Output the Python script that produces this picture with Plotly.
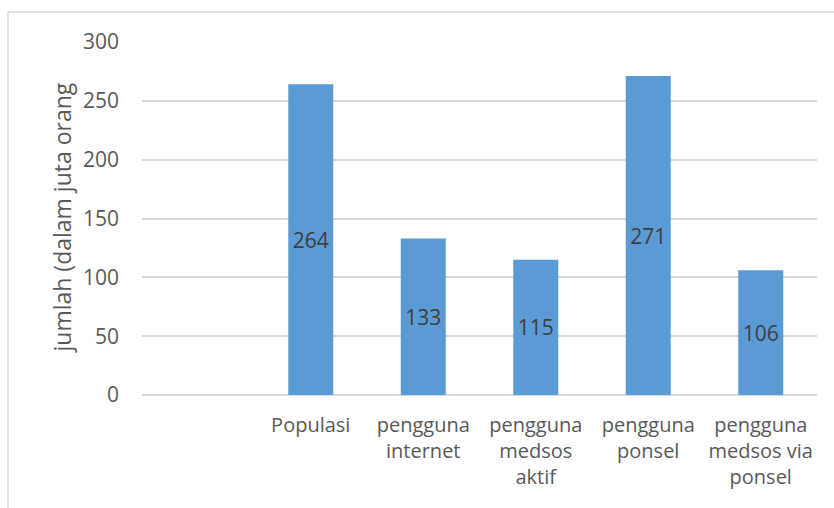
import plotly.graph_objects as go

# Kategori (kategori pertama sengaja dikosongkan) dan nilai dalam juta orang
categories = [" ", "Populasi", "pengguna<br>internet", "pengguna<br>medsos<br>aktif",
              "pengguna<br>ponsel", "pengguna<br>medsos via<br>ponsel"]
values = [None, 264, 133, 115, 271, 106]
labels = ["" if v is None else str(v) for v in values]
y_ticks = [0, 50, 100, 150, 200, 250, 300]

W, H = 834, 508
L, R, T, B = 142, 17, 42, 113
FONT = "Open Sans, Calibri, sans-serif"
TXT = "#595959"
GRID = "#d9d9d9"

fig = go.Figure(go.Bar(
    x=categories, y=values, text=labels,
    textposition="inside", insidetextanchor="middle",
    textfont=dict(family=FONT, size=21, color="#404040"),
    marker=dict(color="#5b9bd5", line=dict(width=0)),
    width=0.4, cliponaxis=False, hoverinfo="skip",
))

pw, ph = W - L - R, H - T - B
def px_x(x):
    return (x - L) / pw
def px_y(y):
    return (H - B - y) / ph

# bingkai area grafik (garis atas dan kiri)
fig.add_shape(type="line", xref="paper", yref="paper",
              x0=px_x(8), x1=px_x(W + 5), y0=px_y(12), y1=px_y(12),
              line=dict(color=GRID, width=1.5))
fig.add_shape(type="line", xref="paper", yref="paper",
              x0=px_x(8), x1=px_x(8), y0=px_y(12), y1=px_y(H + 5),
              line=dict(color=GRID, width=1.5))

fig.update_layout(
    width=W, height=H,
    margin=dict(l=L, r=R, t=T, b=B),
    paper_bgcolor="white", plot_bgcolor="white",
    showlegend=False,
    font=dict(family=FONT, size=20, color=TXT),
    xaxis=dict(type="category", showgrid=False, showline=False, zeroline=False,
               ticks="", tickfont=dict(family=FONT, size=20, color=TXT), tickangle=0,
               ticklabelstandoff=16),
    yaxis=dict(range=[0, 300], tickvals=y_ticks, showgrid=True, gridcolor=GRID,
               gridwidth=1.5, zeroline=True, zerolinecolor=GRID, zerolinewidth=1.5,
               showline=False, ticks="", tickfont=dict(family=FONT, size=21, color=TXT),
               ticklabelstandoff=22),
)

# judul sumbu Y sebagai anotasi berputar
fig.add_annotation(text="jumlah (dalam juta orang", xref="paper", yref="paper",
                   x=px_x(61), y=0.5, xanchor="center", yanchor="middle",
                   textangle=-90, showarrow=False,
                   font=dict(family=FONT, size=23, color=TXT))

fig.write_html("out.html")
